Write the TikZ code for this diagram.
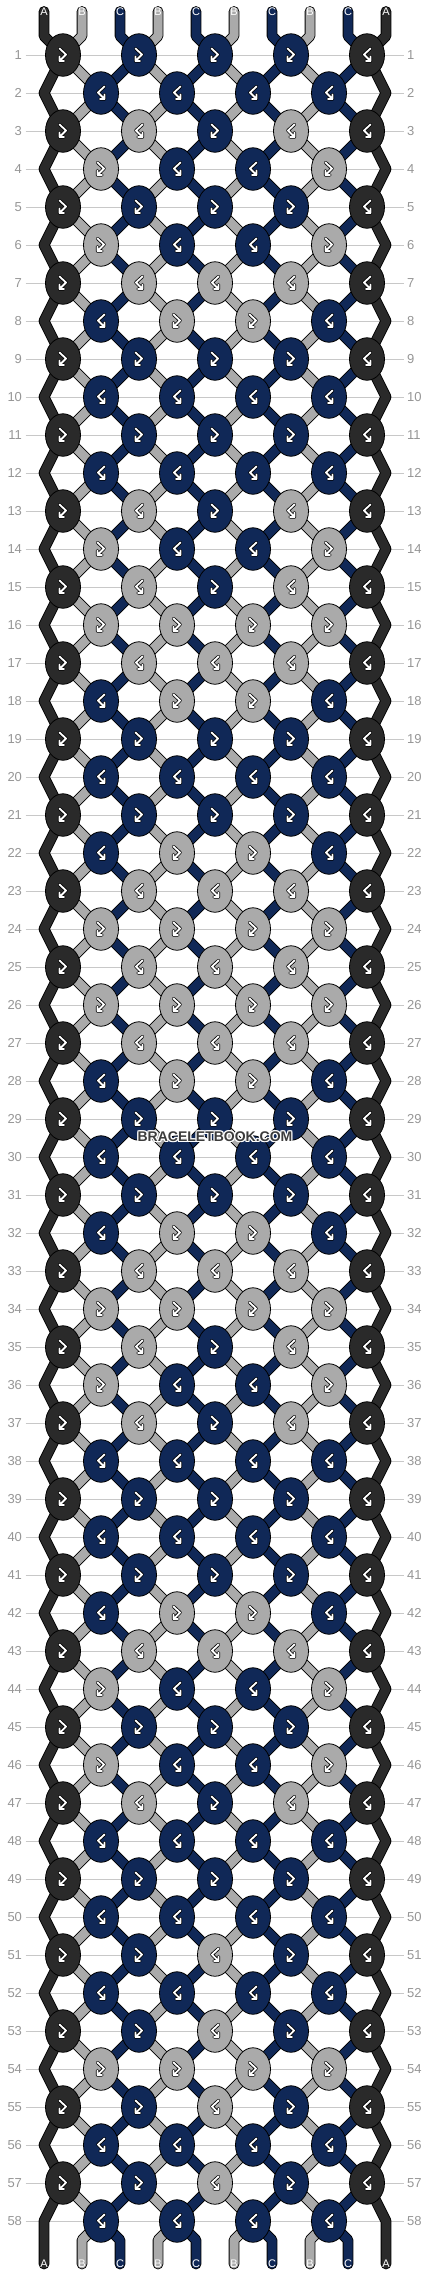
\documentclass[tikz,border=0pt]{standalone}
\usepackage{fontspec}
\setmainfont{Liberation Sans}
\usetikzlibrary{shapes.geometric,backgrounds}

\definecolor{knotA}{RGB}{42,42,42}
\definecolor{knotB}{RGB}{170,170,170}
\definecolor{knotC}{RGB}{16,40,87}
\definecolor{linegray}{RGB}{200,200,200}
\definecolor{numgray}{RGB}{150,150,150}
\definecolor{markgray}{RGB}{60,60,60}

\tikzset{
  knot/.style={ellipse, draw=black, line width=0.8pt, minimum width=35pt, minimum height=42.5pt, inner sep=0pt},
  strand/.style={line width=0.9pt, double=#1, double distance=9pt, line join=round, line cap=round},
  rowline/.style={draw=linegray, line width=0.9pt},
  rownum/.style={text=numgray, font=\fontsize{13}{13}\selectfont},
  strandname/.style={text=white, font=\fontsize{11}{11}\selectfont, inner sep=0pt},
  watermark/.style={font=\bfseries\fontsize{14}{14}\selectfont, inner sep=0pt},
  fb/.pic={
    \draw[black, line width=3.4pt, line join=round, line cap=round] (-3.5,-6.5) -- (3,-0.5) -- (-3.5,6) -- (-3.5,1.5) (1,6) -- (-3.5,6);
    \draw[white, line width=1.8pt, line join=round, line cap=round] (-3.5,-6.5) -- (3,-0.5) -- (-3.5,6) -- (-3.5,1.5) (1,6) -- (-3.5,6);
  },
  bf/.pic={
    \draw[black, line width=3.4pt, line join=round, line cap=round] (3.5,-6.5) -- (-3,-0.5) -- (3.5,6) -- (3.5,1.5) (-1,6) -- (3.5,6);
    \draw[white, line width=1.8pt, line join=round, line cap=round] (3.5,-6.5) -- (-3,-0.5) -- (3.5,6) -- (3.5,1.5) (-1,6) -- (3.5,6);
  },
  oddB/.pic={\pic{bf};}, oddC/.pic={\pic{fb};},
  evenB/.pic={\pic{fb};}, evenC/.pic={\pic{bf};}
}

\begin{document}
\begin{tikzpicture}[x=1pt, y=-1pt]
  \useasboundingbox (0,0) rectangle (430,2276);

  % knots, row by row
  \foreach \r/\ka/\kb/\kc/\kd in {
    1/C/C/C/-, 2/C/C/C/C, 3/B/C/B/-, 4/B/C/C/B, 5/C/C/C/-, 6/B/C/C/B, 7/B/B/B/-, 8/C/B/B/C, 9/C/C/C/-, 10/C/C/C/C,
    11/C/C/C/-, 12/C/C/C/C, 13/B/C/B/-, 14/B/C/C/B, 15/B/C/B/-, 16/B/B/B/B, 17/B/B/B/-, 18/C/B/B/C, 19/C/C/C/-, 20/C/C/C/C,
    21/C/C/C/-, 22/C/B/B/C, 23/B/B/B/-, 24/B/B/B/B, 25/B/B/B/-, 26/B/B/B/B, 27/B/B/B/-, 28/C/B/B/C, 29/C/C/C/-, 30/C/C/C/C,
    31/C/C/C/-, 32/C/B/B/C, 33/B/B/B/-, 34/B/B/B/B, 35/B/C/B/-, 36/B/C/C/B, 37/B/C/B/-, 38/C/C/C/C, 39/C/C/C/-, 40/C/C/C/C,
    41/C/C/C/-, 42/C/B/B/C, 43/B/B/B/-, 44/B/C/C/B, 45/C/C/C/-, 46/B/C/C/B, 47/B/C/B/-, 48/C/C/C/C, 49/C/C/C/-, 50/C/C/C/C,
    51/C/B/C/-, 52/C/C/C/C, 53/C/B/C/-, 54/B/B/B/B, 55/C/B/C/-, 56/C/C/C/C, 57/C/B/C/-, 58/C/C/C/C}{
    \pgfmathsetmacro{\y}{17+38*\r}
    \ifodd\r
      \node[knot, fill=knotA] (k-\r-1) at (63,\y) {};
      \pic at (k-\r-1) {fb};
      \node[knot, fill=knot\ka] (k-\r-3) at (139,\y) {};
      \pic at (k-\r-3) {odd\ka};
      \node[knot, fill=knot\kb] (k-\r-5) at (215,\y) {};
      \pic at (k-\r-5) {odd\kb};
      \node[knot, fill=knot\kc] (k-\r-7) at (291,\y) {};
      \pic at (k-\r-7) {odd\kc};
      \node[knot, fill=knotA] (k-\r-9) at (367,\y) {};
      \pic at (k-\r-9) {bf};
    \else
      \coordinate (k-\r-0) at (44,\y);
      \node[knot, fill=knot\ka] (k-\r-2) at (101,\y) {};
      \pic at (k-\r-2) {even\ka};
      \node[knot, fill=knot\kb] (k-\r-4) at (177,\y) {};
      \pic at (k-\r-4) {even\kb};
      \node[knot, fill=knot\kc] (k-\r-6) at (253,\y) {};
      \pic at (k-\r-6) {even\kc};
      \node[knot, fill=knot\kd] (k-\r-8) at (329,\y) {};
      \pic at (k-\r-8) {even\kd};
      \coordinate (k-\r-10) at (386,\y);
    \fi
  }

  % row numbers
  \foreach \r in {1,...,58}{
    \node[rownum, anchor=east] (ln-\r) at (25.5,17+38*\r) {\r};
    \node[rownum, anchor=west] (rn-\r) at (403.5,17+38*\r) {\r};
  }

  % string ends
  \foreach \p/\col in {1/A,2/B,3/C,4/B,5/C,6/B,7/C,8/B,9/C,10/A}{
    \pgfmathsetmacro{\xs}{6+38*\p}
    \node[strandname] (top-\p) at (\xs,11.5) {\col};
    \node[strandname] (bot-\p) at (\xs,2264) {\col};
  }

  \begin{scope}[on background layer]
    \fill[white] (0,0) rectangle (430,2276);
    \foreach \r in {1,...,58}
      \draw[rowline] (ln-\r.east) -- (rn-\r.west);
    % strings
    \foreach \p/\col in {1/A,2/B,3/C,4/B,5/C,6/B,7/C,8/B,9/C,10/A}{
      \pgfmathsetmacro{\xs}{6+38*\p}
      \pgfmathtruncatemacro{\q}{mod(\p,2)}
      \draw[strand=knot\col] (top-\p.center) -- (\xs,36)
        \foreach \r [evaluate=\r as \cc using int(\p-\q+(\r-2*floor(\r/2))*(2*\q-1))] in {1,...,58}{ -- (k-\r-\cc.center) }
        -- (\xs,2240) -- (bot-\p.center);
    }
  \end{scope}

  % watermark
  \foreach \dx/\dy [count=\i] in {-1/0,1/0,0/-1,0/1,-1/-1,1/1,-1/1,1/-1}
    \node[watermark, text=white] (halo-\i) at (215+\dx,1137+\dy) {BRACELETBOOK.COM};
  \node[watermark, text=markgray] (mark) at (215,1137) {BRACELETBOOK.COM};
\end{tikzpicture}
\end{document}
